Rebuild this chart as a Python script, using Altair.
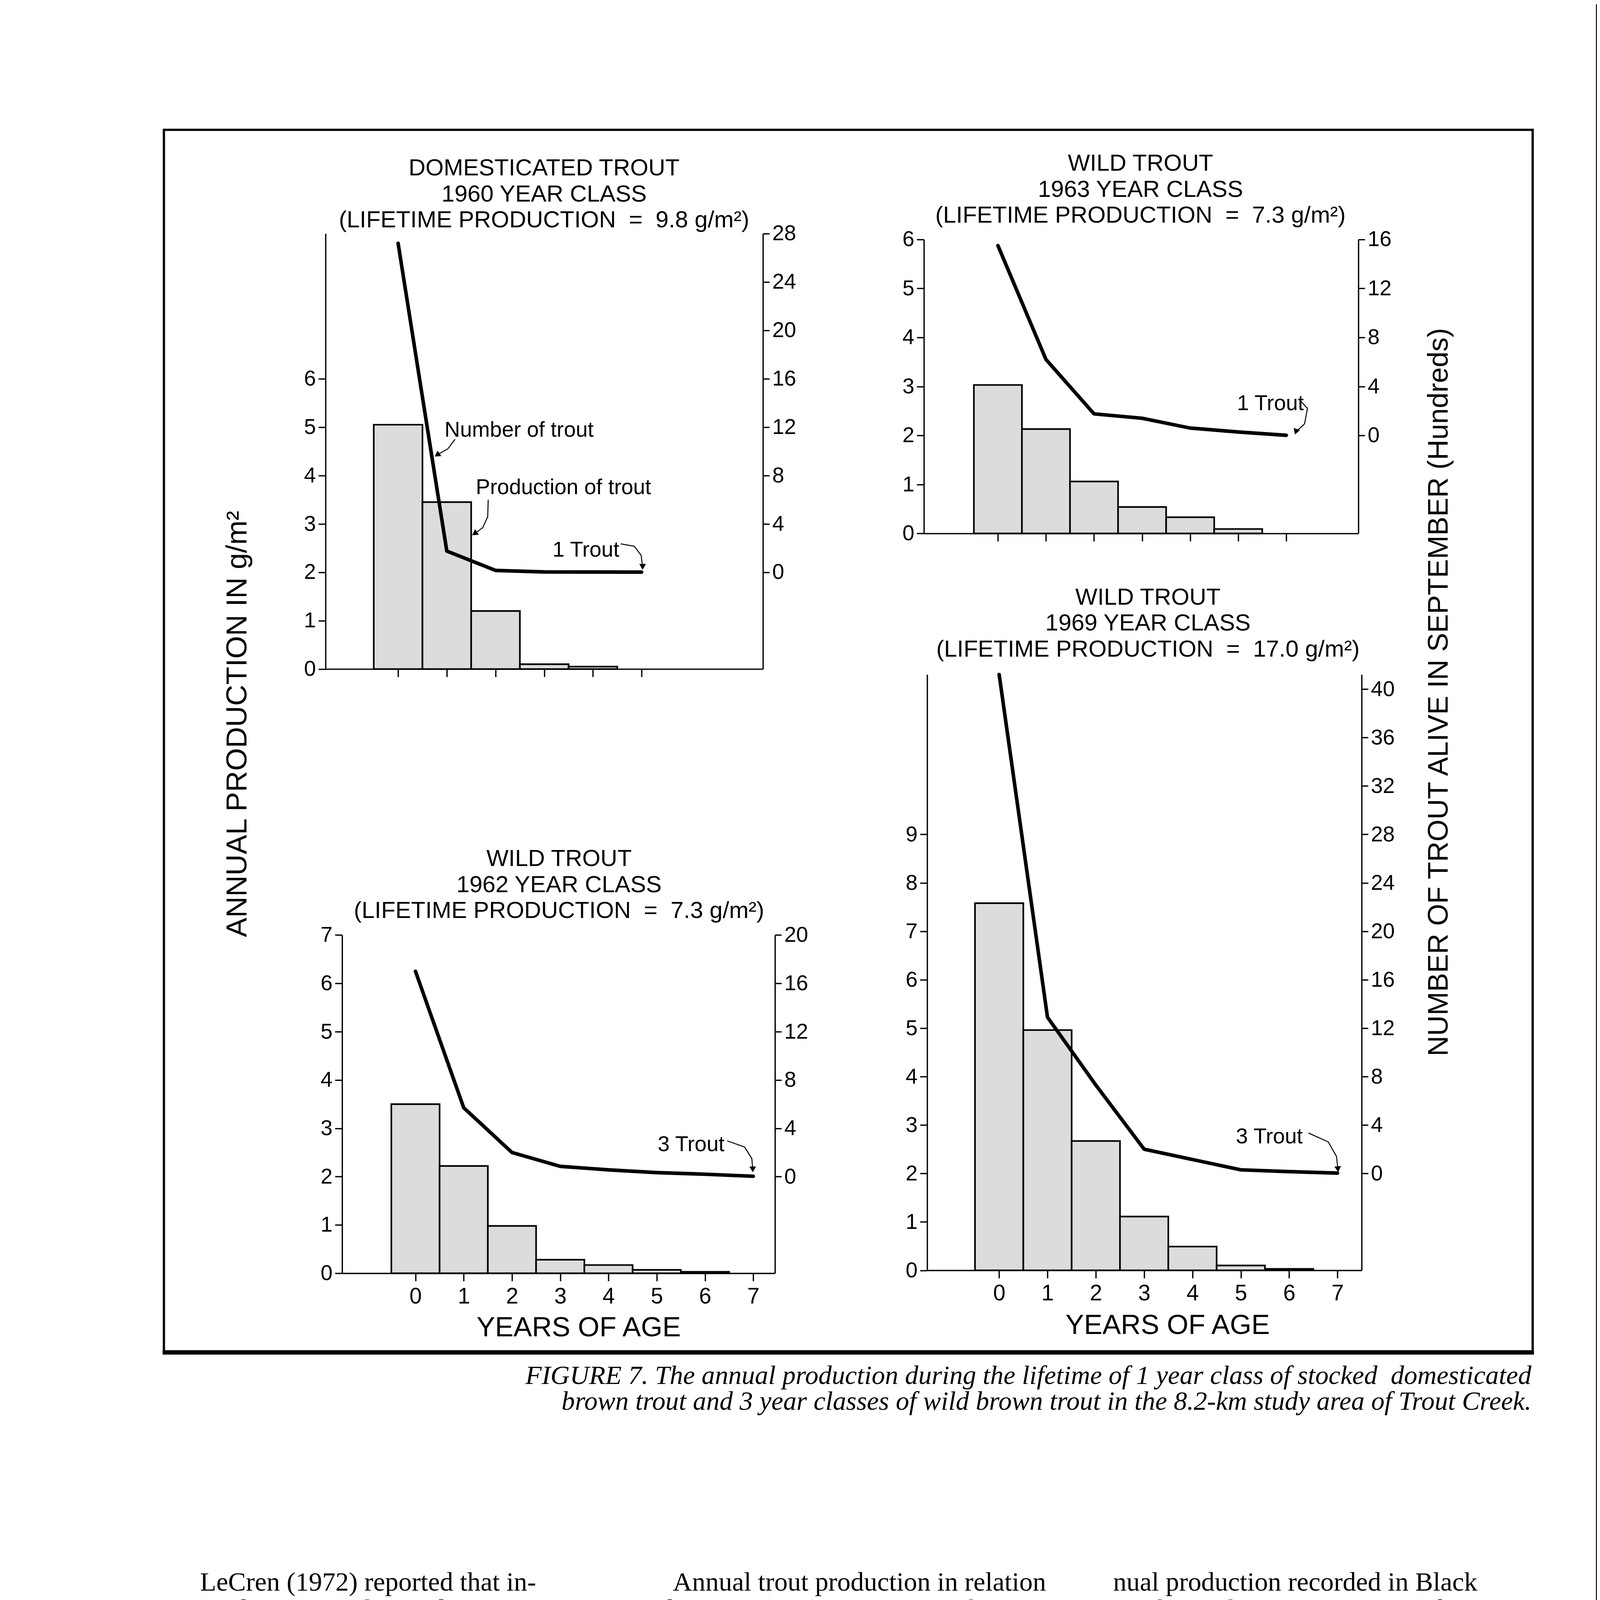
import altair as alt
import pandas as pd

# ---------------- values ----------------
# Annual production (g/m2) by year of age (left axes)
prod_1960 = [5.05, 3.45, 1.20, 0.10, 0.05]
prod_1963 = [3.03, 2.13, 1.06, 0.54, 0.33, 0.09]
prod_1962 = [3.50, 2.22, 0.98, 0.28, 0.17, 0.07, 0.03]
prod_1969 = [7.58, 4.96, 2.67, 1.11, 0.49, 0.10, 0.03]

# Number of trout alive in September (hundreds) by year of age (right axes)
num_1960 = [27.2, 1.75, 0.15, 0.03, 0.02, 0.01]
num_1963 = [15.5, 6.2, 1.76, 1.4, 0.6, 0.28, 0.01]
num_1962 = [17.0, 5.7, 2.0, 0.85, 0.56, 0.33, 0.2, 0.03]
num_1969 = [41.2, 12.9, 7.3, 2.0, 1.15, 0.3, 0.15, 0.03]

title_1960 = ["DOMESTICATED TROUT", "1960 YEAR CLASS", "(LIFETIME PRODUCTION \u00a0=\u00a0 9.8 g/m\u00b2)"]
title_1963 = ["WILD TROUT", "1963 YEAR CLASS", "(LIFETIME PRODUCTION \u00a0=\u00a0 7.3 g/m\u00b2)"]
title_1962 = ["WILD TROUT", "1962 YEAR CLASS", "(LIFETIME PRODUCTION \u00a0=\u00a0 7.3 g/m\u00b2)"]
title_1969 = ["WILD TROUT", "1969 YEAR CLASS", "(LIFETIME PRODUCTION \u00a0=\u00a0 17.0 g/m\u00b2)"]

left_title = "ANNUAL PRODUCTION IN g/m\u00b2"
right_title = "NUMBER OF TROUT ALIVE IN SEPTEMBER (Hundreds)"
x_title = "YEARS OF AGE"

caption_lines = [
    "FIGURE 7. The annual production during the lifetime of 1 year class of stocked \u00a0domesticated",
    "brown trout and 3 year classes of wild brown trout in the 8.2-km study area of Trout Creek.",
]

col1 = [
    "LeCren (1972) reported that in-",
    "creased trout population density in-",
    "creased trout production to a point un-",
    "til a maximum is reached which is then",
    "maintained regardless of further in-",
    "crease in numerical density. Produc-",
    "tion of wild brown trout in Trout Creek",
    "increased with an increase in numerical",
    "density of wild trout. This indicates",
    "that numerical density of wild brown",
    "trout in Trout Creek has not reached a",
    "level where further increase in numbers",
    "of wild brown trout would slow their",
    "production. Similar observations were",
    "made on wild brook trout (Hunt 1966),",
    "wild brown trout (Brynildson and Ma-",
    "son 1975), and coho salmon (Chapman",
    "1965).",
]
col2 = [
    "Annual trout production in relation",
    "to biomass (B:P) in Trout Creek was",
    "generally higher in stations 7-8 and 20-",
    "21 in comparison to stations 17-19 and",
    "to stations 28-29, which had the high-",
    "est number of wild trout (Table 4) and",
    "consequently lower growth rates. The",
    "highest annual production of all year",
    "classes of trout combined was 36.0 g/",
    "m\u00b2 in stations 28-29 (39.5 g/m\u00b2 in sta-",
    "tion 28 alone) during 1978-79, with the",
    "large 1979 year class (numbering 38/",
    "100 m\u00b2 of stream in these 2 stations)",
    "contributing 15.3 g/m\u00b2 to the total.",
    "This annual production of wild",
    "brown trout compares favorably with",
    "annual production of wild brown trout",
    "in Black Earth Creek. The highest an-",
]
col3 = [
    "nual production recorded in Black",
    "Earth Creek was 25.6 g/m\u00b2 and 39.6 g/",
    "m\u00b2 in the upper section and middle sec-",
    "tion during 1972-73, respectively",
    "(Brynildson and Mason 1975). The up-",
    "per section of Black Earth Creek (like",
    "all of Trout Creek) is free of domestic",
    "sewage fertility while the middle sec-",
    "tion is enriched by such fertility, and",
    "consequently, growth and production",
    "is relatively higher in the middle",
    "section.",
    "The 1969 year class had the highest",
    "production by any one year class of",
    "wild brown trout in Trout Creek dur-",
    "ing its first year of life. This year class",
    "produced 28.0 g/m\u00b2 of trout tissue dur-",
    "ing its first 14 months of life in station",
]
indented = {0: [0], 1: [0, 14], 2: [12]}
page_number = "12"

# annotations: (text, age, hundreds) and arrow paths in (age, hundreds)
notes_1960 = [("Number of trout", 0.954, 11.2), ("Production of trout", 1.594, 6.46), ("1 Trout", 3.17, 1.3)]
arrows_1960 = [([(1.17, 11.0), (1.02, 10.2), (0.80, 9.7)], 235),
               ([(1.85, 6.0), (1.84, 4.6), (1.74, 3.7), (1.57, 3.2)], 235),
               ([(4.57, 2.35), (4.85, 2.15), (4.99, 1.4), (5.02, 0.45)], 180)]
notes_1963 = [("1 Trout", 4.975, 2.06)]
arrows_1963 = [([(6.29, 2.86), (6.44, 2.2), (6.38, 0.94), (6.2, 0.3)], 200)]
notes_1962 = [("3 Trout", 5.02, 2.1)]
arrows_1962 = [([(6.46, 2.96), (6.82, 2.45), (6.97, 1.5), (6.99, 0.6)], 180)]
notes_1969 = [("3 Trout", 4.9, 2.5)]
arrows_1969 = [([(6.40, 3.34), (6.81, 2.6), (6.98, 1.4), (7.01, 0.35)], 175)]

# ---------------- layout ----------------
# The page is photographed at 1.2 device pixels per CSS pixel, so every
# reference-pixel measurement is divided by 1.2.
S = 1 / 1.2
M = 8
W = int(4920 * S) - 2 * M
H = int(6660 * S) - 2 * M


def P(v):
    return v * S - M


def z(v):
    return v * S


SANS = "Liberation Sans"
SERIF = "Liberation Serif"

panels = [
    dict(prod=prod_1960, num=num_1960, title=title_1960, notes=notes_1960, arrows=arrows_1960,
         xl=1001, xr=2346, xdom=[-1.49, 7.49], yb=2054, yt=715, ytop=9,
         lticks=list(range(0, 7)), xticks=list(range(0, 6)), xlabels=False, tcx=1673, tb=536),
    dict(prod=prod_1963, num=num_1963, title=title_1963, notes=notes_1963, arrows=arrows_1963,
         xl=2841, xr=4177, xdom=[-1.54, 7.5], yb=1637, yt=733, ytop=6,
         lticks=list(range(0, 7)), xticks=list(range(0, 7)), xlabels=False, tcx=3507, tb=522),
    dict(prod=prod_1962, num=num_1962, title=title_1962, notes=notes_1962, arrows=arrows_1962,
         xl=1052, xr=2383, xdom=[-1.52, 7.45], yb=3912, yt=2872, ytop=7,
         lticks=list(range(0, 8)), xticks=list(range(0, 8)), xlabels=True, tcx=1719, tb=2660,
         xtx=1779, xty=193),
    dict(prod=prod_1969, num=num_1969, title=title_1969, notes=notes_1969, arrows=arrows_1969,
         xl=2851, xr=4187, xdom=[-1.49, 7.5], yb=3903, yt=2071, ytop=12.3,
         lticks=list(range(0, 10)), xticks=list(range(0, 8)), xlabels=True, tcx=3530, tb=1856,
         xtx=3590, xty=195),
]


def xs(p):
    return alt.Scale(domain=p["xdom"], range=[P(p["xl"]), P(p["xr"])], nice=False, zero=False)


def ys(p):
    return alt.Scale(domain=[0, p["ytop"]], range=[P(p["yb"]), P(p["yt"])], nice=False, zero=False)


def rs(p):
    return alt.Scale(domain=[-8, (p["ytop"] - 2) * 4], range=[P(p["yb"]), P(p["yt"])], nice=False, zero=False)


layers = []
one = pd.DataFrame({"k": [0]})

# right edge of the scanned page
layers.append(alt.Chart(one).mark_rule(color="black", strokeWidth=z(5)).encode(
    x=alt.value(P(4910)), y=alt.value(0), y2=alt.value(H)))

# frame around the figure
layers.append(alt.Chart(one).mark_rect(fillOpacity=0, stroke="black", strokeWidth=z(7)).encode(
    x=alt.value(P(504)), x2=alt.value(P(4713)), y=alt.value(P(396)), y2=alt.value(P(4152))))
layers.append(alt.Chart(one).mark_rule(color="black", strokeWidth=z(12)).encode(
    x=alt.value(P(500)), x2=alt.value(P(4717)), y=alt.value(P(4156))))

for p in panels:
    rmax = (p["ytop"] - 2) * 4
    rticks = list(range(0, int(rmax) + 1, 4))
    dfb = pd.DataFrame({"age": list(range(len(p["prod"]))), "val": p["prod"]})
    if p["xlabels"]:
        xaxis = alt.Axis(orient="bottom", offset=P(p["yb"]) - H, values=p["xticks"], labels=True,
                         tickSize=z(24), labelPadding=z(14), labelFontSize=z(68),
                         title=x_title, titleFontSize=z(85), titleFontWeight="normal",
                         titleX=P(p["xtx"]), titleY=z(p["xty"]), titleBaseline="alphabetic",
                         titleAlign="center", titleAngle=0)
    else:
        xaxis = alt.Axis(orient="bottom", offset=P(p["yb"]) - H, values=p["xticks"], labels=False,
                         tickSize=z(24), title=None)
    bars = alt.Chart(dfb).transform_calculate(
        lo="datum.age - 0.5", hi="datum.age + 0.5", base="0"
    ).mark_rect(fill="#dcdcdc", stroke="black", strokeWidth=z(5)).encode(
        x=alt.X("lo:Q", scale=xs(p), axis=xaxis),
        x2=alt.X2("hi"),
        y=alt.Y("val:Q", scale=ys(p),
                axis=alt.Axis(orient="left", offset=-P(p["xl"]), values=p["lticks"], title=None,
                              tickSize=z(22), labelPadding=z(8))),
        y2=alt.Y2("base"),
    )
    layers.append(bars)

    dfl = pd.DataFrame({"age": list(range(len(p["num"]))), "num": p["num"]})
    line = alt.Chart(dfl).mark_line(color="black", strokeWidth=z(11), strokeJoin="round",
                                    strokeCap="round").encode(
        x=alt.X("age:Q", scale=xs(p), axis=None),
        y=alt.Y("num:Q", scale=rs(p),
                axis=alt.Axis(orient="right", offset=P(p["xr"]) - W, values=rticks, title=None,
                              tickSize=z(20), labelPadding=z(8))),
    )
    layers.append(line)

    # panel title (three lines)
    dft = pd.DataFrame({"line": [0, 1, 2], "text": p["title"]})
    layers.append(alt.Chart(dft).mark_text(font=SANS, fontSize=z(72), align="center", baseline="alphabetic",
                                           color="black").encode(
        x=alt.value(P(p["tcx"])),
        y=alt.Y("line:Q", scale=alt.Scale(domain=[0, 2], range=[P(p["tb"]), P(p["tb"] + 160)]), axis=None),
        text="text:N"))

    # annotations
    dfn = pd.DataFrame({"text": [n[0] for n in p["notes"]], "a": [n[1] for n in p["notes"]],
                        "r": [n[2] for n in p["notes"]]})
    layers.append(alt.Chart(dfn).mark_text(font=SANS, fontSize=z(66), align="left", baseline="alphabetic",
                                           color="black").encode(
        x=alt.X("a:Q", scale=xs(p), axis=None), y=alt.Y("r:Q", scale=rs(p), axis=None), text="text:N"))
    for pts, ang in p["arrows"]:
        dfa = pd.DataFrame({"i": list(range(len(pts))), "a": [q[0] for q in pts], "r": [q[1] for q in pts]})
        layers.append(alt.Chart(dfa).mark_line(color="black", strokeWidth=z(3)).encode(
            x=alt.X("a:Q", scale=xs(p), axis=None), y=alt.Y("r:Q", scale=rs(p), axis=None), order="i:Q"))
        layers.append(alt.Chart(dfa.tail(1)).mark_point(shape="triangle-up", filled=True, color="black",
                                                         opacity=1, size=420 * S * S, angle=ang).encode(
            x=alt.X("a:Q", scale=xs(p), axis=None), y=alt.Y("r:Q", scale=rs(p), axis=None)))

# shared axis titles
layers.append(alt.Chart(pd.DataFrame({"t": [left_title]})).mark_text(
    font=SANS, fontSize=z(90), angle=270, align="center", baseline="middle", color="black").encode(
    x=alt.value(P(730)), y=alt.value(P(2223)), text="t:N"))
layers.append(alt.Chart(pd.DataFrame({"t": [right_title]})).mark_text(
    font=SANS, fontSize=z(87), angle=270, align="center", baseline="middle", color="black").encode(
    x=alt.value(P(4425)), y=alt.value(P(2125)), text="t:N"))

# caption
dfc = pd.DataFrame({"line": [0, 1], "text": caption_lines})
layers.append(alt.Chart(dfc).mark_text(font=SERIF, fontStyle="italic", fontSize=z(82), align="right",
                                       baseline="alphabetic", color="black").encode(
    x=alt.value(P(4709)),
    y=alt.Y("line:Q", scale=alt.Scale(domain=[0, 1], range=[P(4252), P(4332)]), axis=None),
    text="text:N"))

# body text (three columns)
rows = []
for c, lines in enumerate([col1, col2, col3]):
    for i, t in enumerate(lines):
        rows.append({"col": c, "line": i, "text": t, "ind": 1 if i in indented[c] else 0})
dfx = pd.DataFrame(rows)
xcol = alt.Scale(domain=[0, 2], range=[P(515), P(3423)])
ylin = alt.Scale(domain=[0, 17], range=[P(4888), P(6313)])
for ind, dx in [(0, 0), (1, z(100))]:
    layers.append(alt.Chart(dfx).transform_filter(f"datum.ind == {ind}").mark_text(
        font=SERIF, fontSize=z(82), align="left", baseline="alphabetic", color="black", dx=dx).encode(
        x=alt.X("col:Q", scale=xcol, axis=None),
        y=alt.Y("line:Q", scale=ylin, axis=None),
        text="text:N"))

# page number
layers.append(alt.Chart(pd.DataFrame({"t": [page_number]})).mark_text(
    font="Liberation Sans Narrow, DejaVu Sans Condensed, Liberation Sans", fontWeight="bold",
    fontSize=z(100), align="center", baseline="alphabetic", color="black").encode(
    x=alt.value(P(342)), y=alt.value(P(6317)), text="t:N"))

chart = alt.layer(*layers).resolve_scale(x="independent", y="independent").properties(
    width=W, height=H, autosize=alt.AutoSizeParams(type="none"), padding=0
).configure_view(stroke=None).configure_axis(
    grid=False, domainColor="black", tickColor="black", labelColor="black", titleColor="black",
    labelFont=SANS, titleFont=SANS, domainWidth=z(4), tickWidth=z(4), labelFontSize=z(66)
)

chart.save("out.html", embed_options={"renderer": "svg", "actions": False})
